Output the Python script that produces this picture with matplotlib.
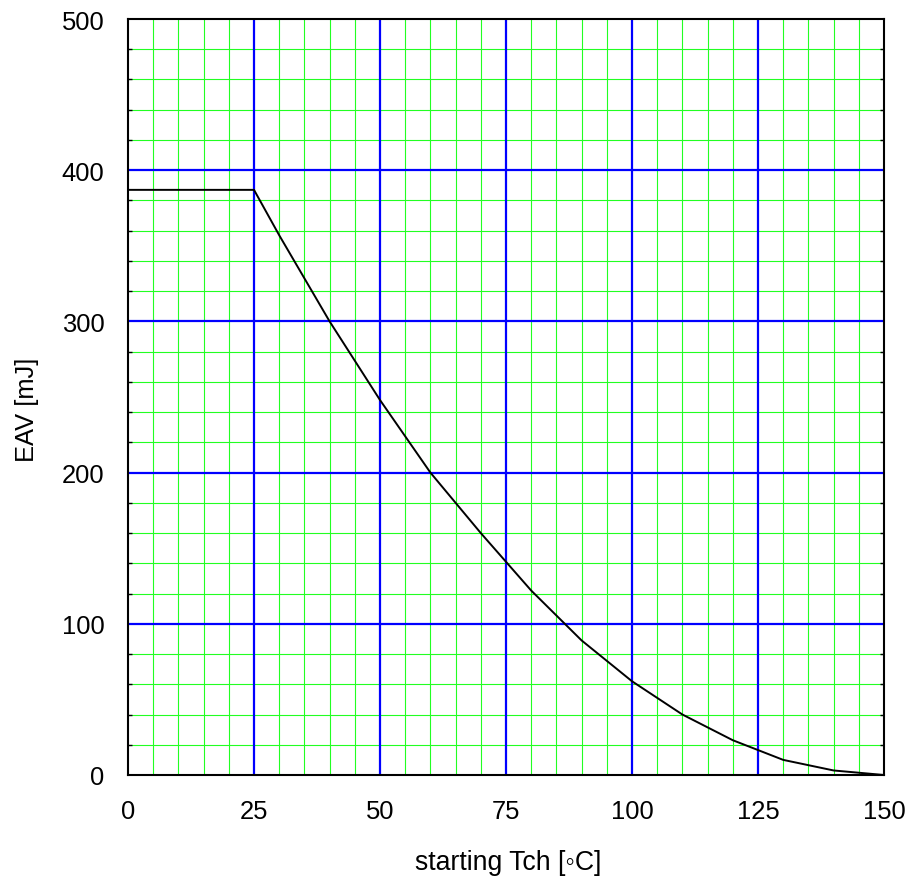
import matplotlib
matplotlib.use("Agg")
import matplotlib.pyplot as plt
from matplotlib.ticker import MultipleLocator
import numpy as np

plt.rcParams['font.family'] = ['Liberation Sans', 'DejaVu Sans']

# Data
tch = [0, 25, 30, 40, 50, 60, 70, 80, 90, 100, 110, 120, 130, 140, 150]
eav = [387, 387, 357, 300, 248, 200, 160, 122, 89, 62, 40, 23, 10, 3, 0]

x_ticks = [0, 25, 50, 75, 100, 125, 150]
y_ticks = [0, 100, 200, 300, 400, 500]
x_label = "starting Tch [\u25e6C]"
y_label = "EAV [mJ]"

FS = 18.4
W, H = 910, 878
fig = plt.figure(figsize=(W / 100, H / 100), dpi=100)
ax = fig.add_axes([128 / W, 1 - 776 / H, 756 / W, 756 / H])

ax.set_xlim(0, 150)
ax.set_ylim(0, 500)
ax.xaxis.set_major_locator(MultipleLocator(25))
ax.xaxis.set_minor_locator(MultipleLocator(5))
ax.yaxis.set_major_locator(MultipleLocator(100))
ax.yaxis.set_minor_locator(MultipleLocator(20))
ax.set_xticks(x_ticks)
ax.set_yticks(y_ticks)

green = '#22ff22'
blue = '#0000ff'
ax.grid(which='minor', color=green, linewidth=0.8, zorder=0)
ax.set_axisbelow(True)
for xv in x_ticks[1:-1]:
    ax.axvline(xv, color=blue, linewidth=1.6, zorder=1)
for yv in y_ticks[1:-1]:
    ax.axhline(yv, color=blue, linewidth=1.6, zorder=1)

ax.plot(tch, eav, color='black', linewidth=1.4, zorder=3)

for s in ax.spines.values():
    s.set_linewidth(1.5)
    s.set_color('black')
    s.set_zorder(4)

ax.tick_params(axis='x', which='both', length=0, pad=17, labelsize=FS)
ax.tick_params(axis='y', which='major', length=0, pad=17, labelsize=FS)
ax.tick_params(axis='y', which='minor', direction='in', length=3, width=1,
               left=True, right=True, color='black')

fig.text(508 / W, 1 - 863 / H, x_label, ha='center', va='center', fontsize=19.2)
fig.text(27 / W, 1 - 410 / H, y_label, ha='center', va='center', rotation=90, fontsize=FS)

fig.savefig('out.png', dpi=100)
